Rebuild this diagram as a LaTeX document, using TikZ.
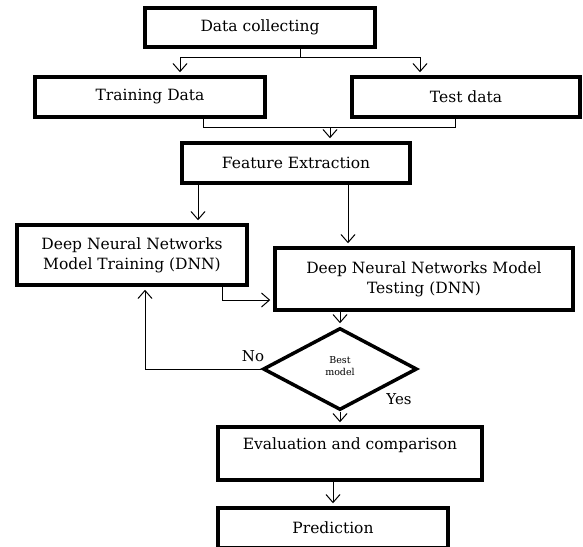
\documentclass[tikz,border=0pt]{standalone}
\usepackage{fontspec}
\setmainfont{DejaVu Serif}
\usetikzlibrary{arrows.meta,shapes.geometric}
\begin{document}
\begin{tikzpicture}[x=1pt,y=-1pt,
  box/.style={draw,line width=3.5pt,inner sep=0pt,align=center,font=\fontsize{15.5}{20}\selectfont},
  arr/.style={line width=1pt,-{Straight Barb[length=8pt,width=14pt,line width=1pt]},shorten >=3pt},
  conn/.style={line width=1pt},
  lbl/.style={font=\fontsize{15}{18}\selectfont,inner sep=0pt}]
\useasboundingbox (0,0) rectangle (583,546);
\node[box,minimum width=230,minimum height=39] (dc) at (260,27.5) {Data collecting};
\node[box,minimum width=230,minimum height=40] (train) at (150,97) {Training Data};
\node[box,minimum width=228,minimum height=40] (test) at (466,97) {Test data};
\node[box,minimum width=228,minimum height=40] (fe) at (296,163) {Feature Extraction};
\node[box,minimum width=230,minimum height=60] (dnnt) at (132,255) {Deep Neural Networks\\Model Training (DNN)};
\node[box,minimum width=298,minimum height=62] (dnnte) at (424,279) {Deep Neural Networks Model\\Testing (DNN)};
\node[draw,diamond,line width=3.5pt,inner sep=0pt,minimum width=154,minimum height=82] (dia) at (340,369) {};
\node[align=center,inner sep=0pt,font=\fontsize{9.5}{12.5}\selectfont] (diatxt) at (340,366) {Best\\model};
\node[box,minimum width=264,minimum height=53,label={[anchor=north,yshift=-9pt,font=\fontsize{15.5}{18}\selectfont]north:Evaluation and comparison}] (eval) at (350,453.5) {};
\node[box,minimum width=230,minimum height=40] (pred) at (333,528) {Prediction};
\node[lbl] (no) at (253,356) {No};
\node[lbl] (yes) at (399,399) {Yes};
% split from data collecting
\coordinate (j1) at (300,57);
\draw[conn] (j1 |- dc.south) -- (j1);
\draw[arr] (j1) -| ([xshift=30pt]train.north);
\draw[arr] (j1) -| ([xshift=-46pt]test.north);
% merge into feature extraction
\coordinate (j2) at (330,127);
\draw[conn] ([xshift=53pt]train.south) |- (j2);
\draw[conn] ([xshift=-11pt]test.south) |- (j2);
\draw[arr] (j2) -- (j2 |- fe.north);
% feature extraction to models
\draw[arr] ([xshift=-98pt]fe.south) -- ([xshift=-98pt]fe.south |- dnnt.north);
\draw[arr] ([xshift=52pt]fe.south) -- ([xshift=52pt]fe.south |- dnnte.north);
% training to testing
\draw[arr] ([xshift=90pt]dnnt.south) |- ([yshift=-21pt]dnnte.west);
% testing to decision
\draw[arr] (dia.north |- dnnte.south) -- (dia.north);
% no loop
\draw[arr] (dia.west) -| ([xshift=13pt]dnnt.south);
% yes
\draw[arr] (dia.south) -- (dia.south |- eval.north);
\draw[arr] (pred.north |- eval.south) -- (pred.north);
\end{tikzpicture}
\end{document}
